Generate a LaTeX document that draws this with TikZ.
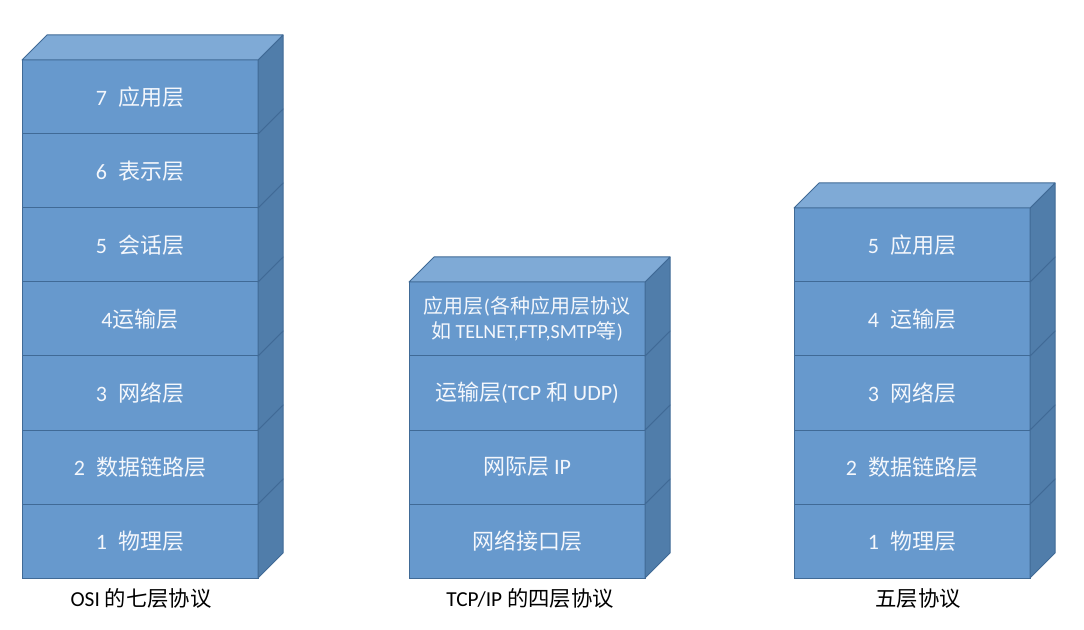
\documentclass[tikz,border=0pt]{standalone}
\usepackage{fontspec}
\setmainfont{Carlito}
\newfontfamily\cjk{Noto Sans CJK SC}
\definecolor{frontblue}{RGB}{103,153,205}
\definecolor{topblue}{RGB}{127,170,214}
\definecolor{sideblue}{RGB}{80,125,170}
\definecolor{edgeblue}{RGB}{64,106,150}
\definecolor{textwhite}{RGB}{244,247,252}
\tikzset{every picture/.style={line width=0.75pt}}
\tikzset{
  layerbox/.style={draw=edgeblue, fill=frontblue, minimum width=177pt, minimum height=55.5pt,
    inner sep=0pt, outer sep=0pt, text=textwhite, align=center, font=\fontsize{16.5}{20}\selectfont},
  sideface/.style={draw=edgeblue, fill=sideblue, line join=round},
  topface/.style={draw=edgeblue, fill=topblue, line join=round},
  caption/.style={text=black, font=\fontsize{16}{19}\selectfont}
}

\begin{document}
\begin{tikzpicture}[x=0.75pt,y=0.75pt,yscale=-1,xscale=1]
	\path (0,0) rectangle (1084,630); %page frame

	%Shape: OSI stack, front faces
	\node[layerbox] (osi1) at (140,541) {1\enspace{\cjk 物理层}};
	\node[layerbox] (osi2) at (140,467) {2\enspace{\cjk 数据链路层}};
	\node[layerbox] (osi3) at (140,393) {3\enspace{\cjk 网络层}};
	\node[layerbox] (osi4) at (140,319) {4{\cjk 运输层}};
	\node[layerbox] (osi5) at (140,245) {5\enspace{\cjk 会话层}};
	\node[layerbox] (osi6) at (140,171) {6\enspace{\cjk 表示层}};
	\node[layerbox] (osi7) at (140,97) {7\enspace{\cjk 应用层}};
	%Shape: OSI stack, side and top
	\draw[sideface] (osi1.north east) -- ++(25,-25) -- ++(0,74) -- (osi1.south east) -- cycle;
	\draw[sideface] (osi2.north east) -- ++(25,-25) -- ++(0,74) -- (osi2.south east) -- cycle;
	\draw[sideface] (osi3.north east) -- ++(25,-25) -- ++(0,74) -- (osi3.south east) -- cycle;
	\draw[sideface] (osi4.north east) -- ++(25,-25) -- ++(0,74) -- (osi4.south east) -- cycle;
	\draw[sideface] (osi5.north east) -- ++(25,-25) -- ++(0,74) -- (osi5.south east) -- cycle;
	\draw[sideface] (osi6.north east) -- ++(25,-25) -- ++(0,74) -- (osi6.south east) -- cycle;
	\draw[sideface] (osi7.north east) -- ++(25,-25) -- ++(0,74) -- (osi7.south east) -- cycle;
	\draw[topface] (osi7.north west) -- ++(25,-25) -- ++(236,0) -- (osi7.north east) -- cycle;

	%Shape: TCP/IP stack, front faces
	\node[layerbox] (tcp1) at (527,541) {{\cjk 网络接口层}};
	\node[layerbox] (tcp2) at (527,467) {{\cjk 网际层} IP};
	\node[layerbox] (tcp3) at (527,393) {{\cjk 运输层}(TCP {\cjk 和} UDP)};
	\node[layerbox, font=\fontsize{15}{19}\selectfont] (tcp4) at (527,319)
		{{\cjk 应用层}({\cjk 各种应用层协议}\\{\cjk 如} TELNET,FTP,SMTP{\cjk 等})};
	%Shape: TCP/IP stack, side and top
	\draw[sideface] (tcp1.north east) -- ++(25,-25) -- ++(0,74) -- (tcp1.south east) -- cycle;
	\draw[sideface] (tcp2.north east) -- ++(25,-25) -- ++(0,74) -- (tcp2.south east) -- cycle;
	\draw[sideface] (tcp3.north east) -- ++(25,-25) -- ++(0,74) -- (tcp3.south east) -- cycle;
	\draw[sideface] (tcp4.north east) -- ++(25,-25) -- ++(0,74) -- (tcp4.south east) -- cycle;
	\draw[topface] (tcp4.north west) -- ++(25,-25) -- ++(236,0) -- (tcp4.north east) -- cycle;

	%Shape: five layer stack, front faces
	\node[layerbox] (five1) at (912,541) {1\enspace{\cjk 物理层}};
	\node[layerbox] (five2) at (912,467) {2\enspace{\cjk 数据链路层}};
	\node[layerbox] (five3) at (912,393) {3\enspace{\cjk 网络层}};
	\node[layerbox] (five4) at (912,319) {4\enspace{\cjk 运输层}};
	\node[layerbox] (five5) at (912,245) {5\enspace{\cjk 应用层}};
	%Shape: five layer stack, side and top
	\draw[sideface] (five1.north east) -- ++(25,-25) -- ++(0,74) -- (five1.south east) -- cycle;
	\draw[sideface] (five2.north east) -- ++(25,-25) -- ++(0,74) -- (five2.south east) -- cycle;
	\draw[sideface] (five3.north east) -- ++(25,-25) -- ++(0,74) -- (five3.south east) -- cycle;
	\draw[sideface] (five4.north east) -- ++(25,-25) -- ++(0,74) -- (five4.south east) -- cycle;
	\draw[sideface] (five5.north east) -- ++(25,-25) -- ++(0,74) -- (five5.south east) -- cycle;
	\draw[topface] (five5.north west) -- ++(25,-25) -- ++(236,0) -- (five5.north east) -- cycle;

	% Text Node
	\node[caption] (osicap) at (141,598) {OSI {\cjk 的七层协议}};
	% Text Node
	\node[caption] (tcpcap) at (530,598) {TCP/IP {\cjk 的四层协议}};
	% Text Node
	\node[caption] (fivecap) at (918,598) {{\cjk 五层协议}};

\end{tikzpicture}
\end{document}
